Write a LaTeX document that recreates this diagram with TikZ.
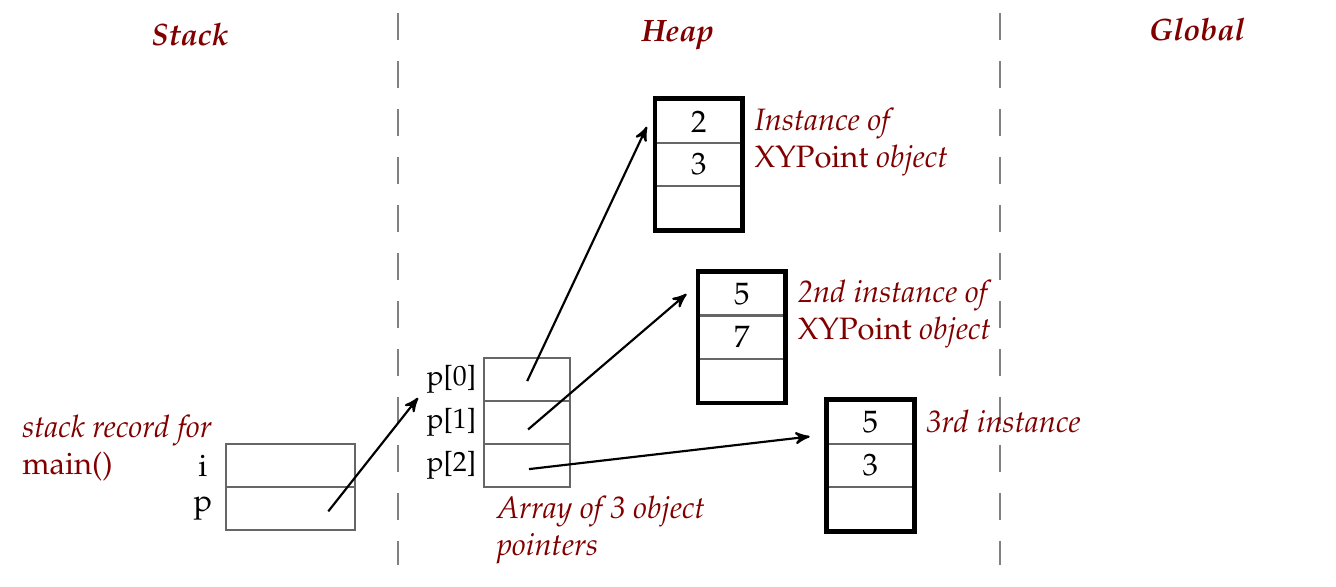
\documentclass[tikz,border=0pt]{standalone}
\usepackage[T1]{fontenc}
\usepackage{mathpazo}
\usepackage{xcolor}
\usepackage{tikz}
\usetikzlibrary{arrows}
\definecolor{darkred}{RGB}{128,0,0}

\begin{document}
\begin{tikzpicture}[
  cell/.style={draw=black!60,line width=0.7pt,minimum width=1.47cm,minimum height=0.49cm,inner sep=0pt},
  acell/.style={cell,minimum width=0.98cm},
  ocell/.style={cell,minimum width=0.97cm},
  head/.style={text=darkred,font=\bfseries\itshape},
  note/.style={text=darkred,font=\itshape,align=left,anchor=west},
  divider/.style={black!50,line width=0.7pt,dash pattern=on 8.7pt off 6.8pt}]
\useasboundingbox (0,0) rectangle (15.18,6.66);

\node[head] (hs) at (2.16,6.26)  {Stack};
\node[head] (hh) at (7.70,6.26)  {Heap};
\node[head] (hg) at (13.60,6.32) {Global};

\draw[divider] (4.52,6.51) -- (4.52,0.24);
\draw[divider] (11.36,6.51) -- (11.36,0.24);

  \node[cell]          (si) at (3.30,1.37) {};
  \node[cell]          (sp) at (3.30,0.88) {};
  \node[left,text width=7pt,align=center] (li) at (si.west) {i};
  \node[left,text width=7pt,align=center] (lp) at (sp.west) {p};
  \node[note]          (nm) at (0.13,1.57) {stack record for\\\textup{main()}};

  \node[acell]         (a0) at (5.99,2.35) {};
  \node[acell]         (a1) at (5.99,1.86) {};
  \node[acell]         (a2) at (5.99,1.37) {};
  \node[left,font=\small,inner sep=2pt] (l0) at (a0.west) {p[0]};
  \node[left,font=\small,inner sep=2pt] (l1) at (a1.west) {p[1]};
  \node[left,font=\small,inner sep=2pt] (l2) at (a2.west) {p[2]};
  \node[note]          (na) at (5.52,0.64) {Array of 3 object\\pointers};

  \node[ocell]         (o1a) at (7.94,5.28) {2};
  \node[ocell]         (o1b) at (7.94,4.79) {3};
  \node[ocell]         (o1c) at (7.94,4.30) {};
  \draw[line width=1.5pt] (o1a.north west) rectangle (o1c.south east);
  \node[note]          (n1) at (8.45,5.045) {Instance of\\\textup{XYPoint} object};

  \node[ocell]         (o2a) at (8.43,3.32) {5};
  \node[ocell]         (o2b) at (8.43,2.83) {7};
  \node[ocell]         (o2c) at (8.43,2.34) {};
  \draw[line width=1.5pt] (o2a.north west) rectangle (o2c.south east);
  \node[note]          (n2) at (8.94,3.095) {2nd instance of\\\textup{XYPoint} object};

  \node[ocell]         (o3a) at (9.89,1.86) {5};
  \node[ocell]         (o3b) at (9.89,1.37) {3};
  \node[ocell]         (o3c) at (9.89,0.88) {};
  \draw[line width=1.5pt] (o3a.north west) rectangle (o3c.south east);
  \node[note]          (n3) at (10.40,1.87) {3rd instance};

  \coordinate (c1s) at (3.73,0.85);
  \coordinate (c1e) at (4.75,2.14);
  \coordinate (c2s) at (5.99,2.33);
  \coordinate (c2e) at (7.35,5.22);
  \coordinate (c3s) at (6.00,1.78);
  \coordinate (c3e) at (7.80,3.32);
  \coordinate (c4s) at (6.01,1.33);
  \coordinate (c4e) at (9.20,1.70);

  \path[->,>=stealth',line width=0.7pt]
		(c1s) edge (c1e)
        (c2s) edge (c2e)
        (c3s) edge (c3e)
        (c4s) edge (c4e);
\end{tikzpicture}
\end{document}
